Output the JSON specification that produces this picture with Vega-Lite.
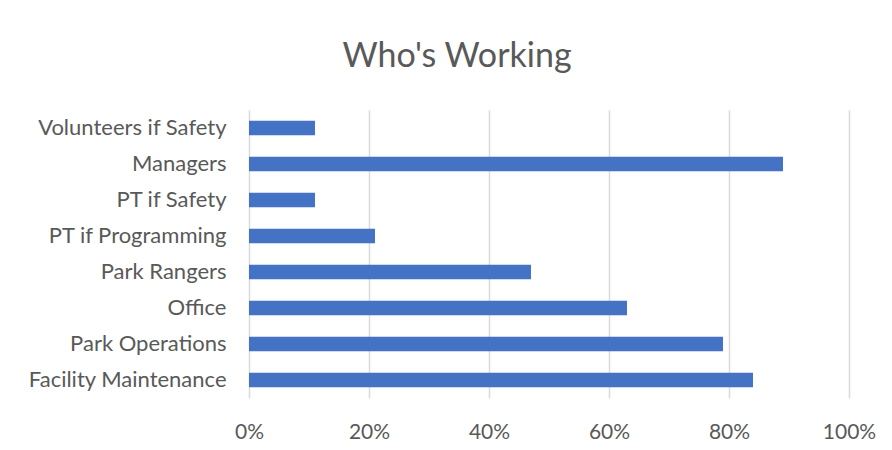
{
  "$schema": "https://vega.github.io/schema/vega-lite/v6.json",
  "autosize": "none",
  "width": 600,
  "height": 288,
  "padding": {"left": 249, "top": 110, "right": 43, "bottom": 52},
  "background": "white",
  "title": {
    "text": "Who's Working",
    "anchor": "middle",
    "frame": "group",
    "dx": -92,
    "offset": 36,
    "font": "Lato",
    "fontSize": 34,
    "fontWeight": "normal",
    "color": "#595959"
  },
  "data": {
    "values": [
      {"role": "Volunteers if Safety", "pct": 0.11},
      {"role": "Managers", "pct": 0.89},
      {"role": "PT if Safety", "pct": 0.11},
      {"role": "PT if Programming", "pct": 0.21},
      {"role": "Park Rangers", "pct": 0.47},
      {"role": "Office", "pct": 0.63},
      {"role": "Park Operations\u00a0", "pct": 0.79},
      {"role": "Facility Maintenance", "pct": 0.84}
    ]
  },
  "mark": {"type": "bar", "color": "#4472C4"},
  "encoding": {
    "y": {
      "field": "role",
      "type": "nominal",
      "sort": null,
      "scale": {"paddingInner": 0.6, "paddingOuter": 0.3},
      "axis": {
        "title": null,
        "domain": false,
        "ticks": false,
        "labelPadding": 23,
        "labelFont": "Lato",
        "labelFontSize": 22,
        "labelColor": "#595959",
        "labelLimit": 300
      }
    },
    "x": {
      "field": "pct",
      "type": "quantitative",
      "scale": {"domain": [0, 1], "nice": false},
      "axis": {
        "title": null,
        "format": "%",
        "values": [0, 0.2, 0.4, 0.6, 0.8, 1.0],
        "domain": false,
        "ticks": false,
        "grid": true,
        "gridColor": "#d9d9d9",
        "gridWidth": 1.5,
        "labelFlush": false,
        "labelPadding": 23,
        "labelFont": "Lato",
        "labelFontSize": 21,
        "labelColor": "#595959"
      }
    }
  },
  "config": {"view": {"stroke": null}}
}
